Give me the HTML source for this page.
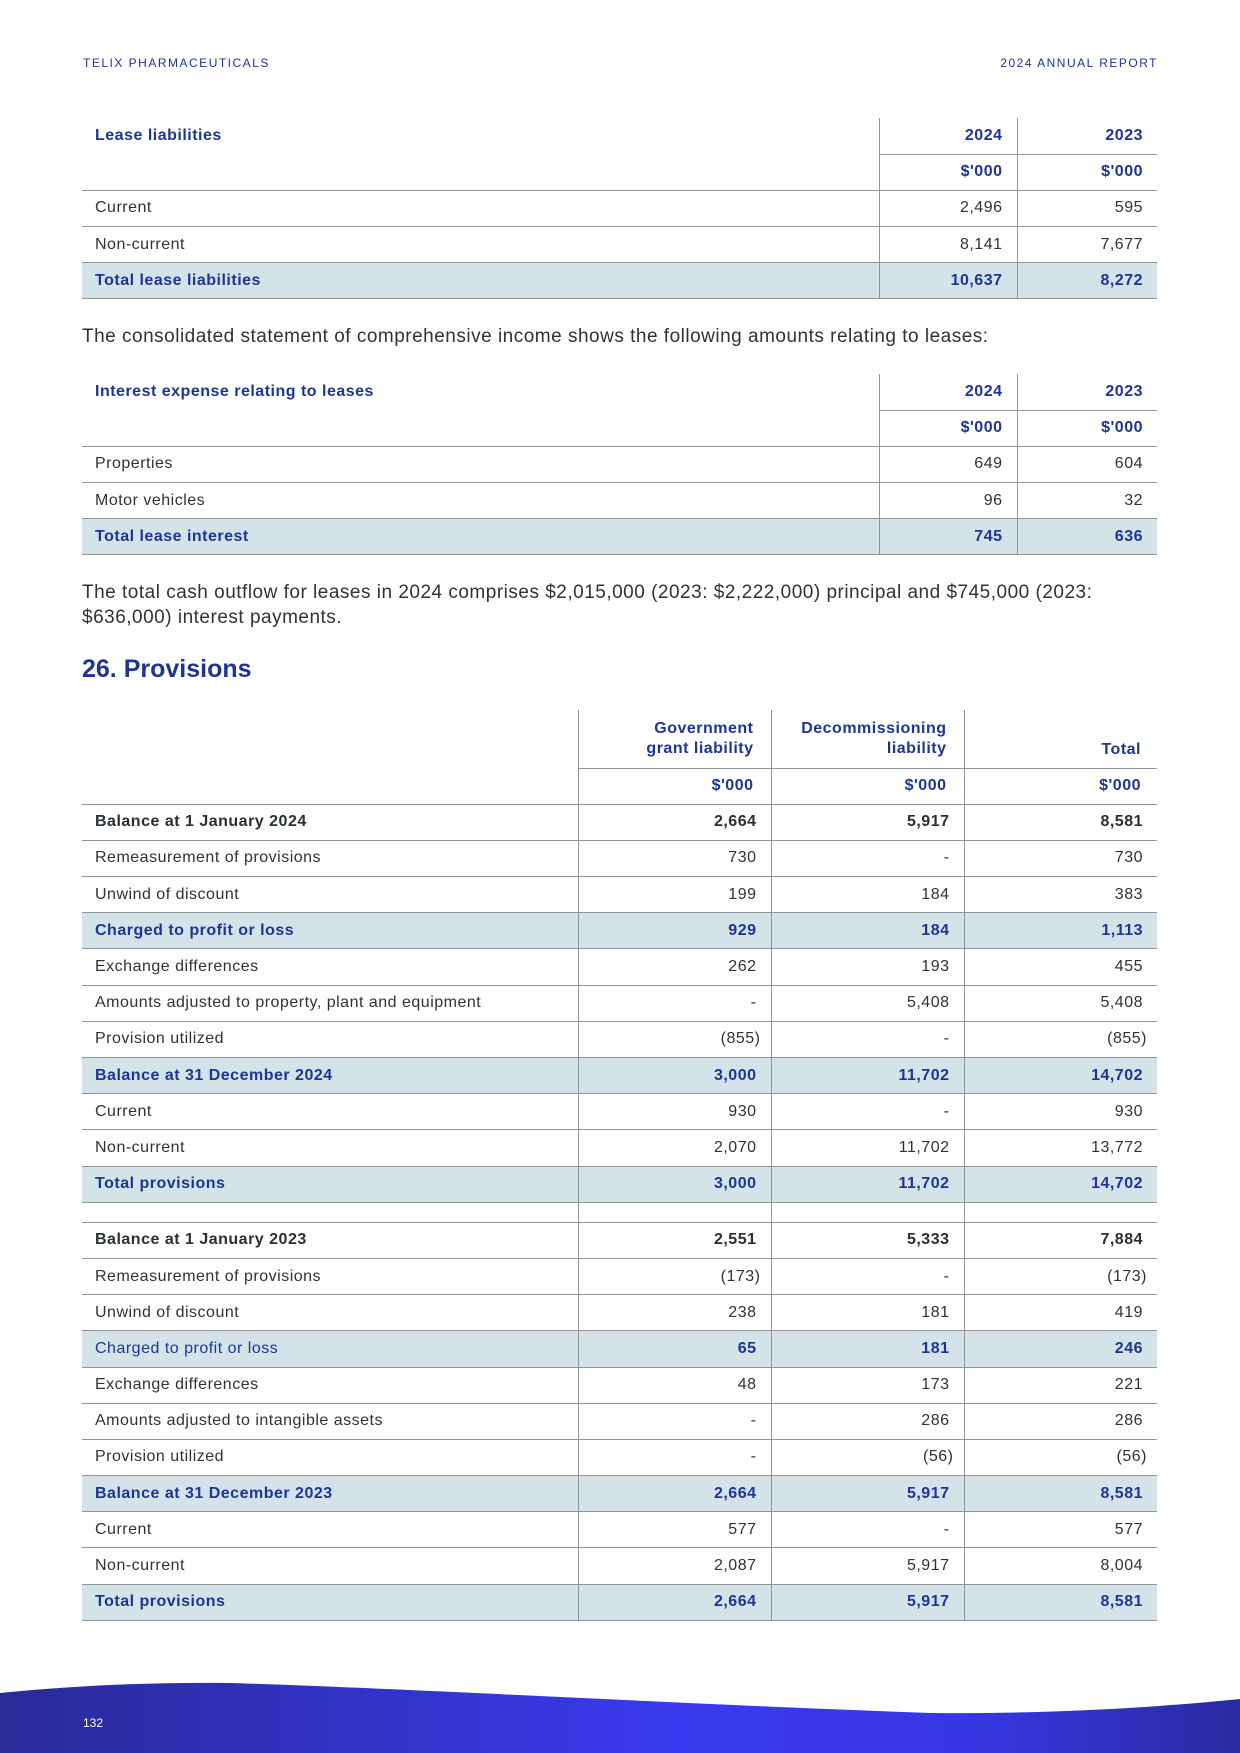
<!DOCTYPE html>
<html><head><meta charset="utf-8"><style>
*{margin:0;padding:0;box-sizing:border-box}
body{width:1240px;height:1753px;position:relative;background:#fff;font-family:"Liberation Sans",sans-serif;color:#2e3338;overflow:hidden}
.hdr{position:absolute;top:56px;font-size:12px;letter-spacing:1.5px;color:#1e3593}
table{position:absolute;left:82px;width:1075px;border-collapse:collapse;font-size:16px;letter-spacing:0.5px}
td{padding:0 14px 0 13px;white-space:nowrap;height:36.2px;border-bottom:1px solid #8f9699;vertical-align:middle}
td.n{text-align:right;border-left:1px solid #8f9699}
.b{font-weight:bold;color:#1e3593}
.k{font-weight:bold;color:#2a2f33}
tr.f td{background:#d3e3e8}
tr.f td{font-weight:bold;color:#1e3593}
tr.f td.l2{font-weight:normal}
td.nb{border-bottom:none}
tr.blank td{height:20px}
p.t{position:absolute;left:82px;font-size:19px;color:#2e3338;line-height:25px;letter-spacing:0.5px}
h2{position:absolute;left:82px;top:655px;font-size:25px;color:#1e3593}
td.p{padding-right:10px}
</style></head><body>
<div class="hdr" style="left:83px">TELIX PHARMACEUTICALS</div>
<div class="hdr" style="right:82px">2024 ANNUAL REPORT</div>

<table style="top:118px">
<colgroup><col style="width:797px"><col style="width:138px"><col style="width:140px"></colgroup>
<tr><td class="b nb">Lease liabilities</td><td class="n b">2024</td><td class="n b">2023</td></tr>
<tr><td></td><td class="n b">$'000</td><td class="n b">$'000</td></tr>
<tr><td>Current</td><td class="n">2,496</td><td class="n">595</td></tr>
<tr><td>Non-current</td><td class="n">8,141</td><td class="n">7,677</td></tr>
<tr class="f"><td>Total lease liabilities</td><td class="n">10,637</td><td class="n">8,272</td></tr>
</table>

<p class="t" style="top:324px">The consolidated statement of comprehensive income shows the following amounts relating to leases:</p>

<table style="top:374px">
<colgroup><col style="width:797px"><col style="width:138px"><col style="width:140px"></colgroup>
<tr><td class="b nb">Interest expense relating to leases</td><td class="n b">2024</td><td class="n b">2023</td></tr>
<tr><td></td><td class="n b">$'000</td><td class="n b">$'000</td></tr>
<tr><td>Properties</td><td class="n">649</td><td class="n">604</td></tr>
<tr><td>Motor vehicles</td><td class="n">96</td><td class="n">32</td></tr>
<tr class="f"><td>Total lease interest</td><td class="n">745</td><td class="n">636</td></tr>
</table>

<p class="t" style="top:580px">The total cash outflow for leases in 2024 comprises $2,015,000 (2023: $2,222,000) principal and $745,000 (2023:<br>$636,000) interest payments.</p>

<h2>26. Provisions</h2>

<table style="top:710px">
<colgroup><col style="width:496px"><col style="width:193px"><col style="width:193px"><col style="width:193px"></colgroup>
<tr><td class="nb" style="height:58px"></td><td class="n b" style="height:58px;padding-right:17px;line-height:20px;vertical-align:bottom;padding-bottom:9px">Government<br>grant liability</td><td class="n b" style="padding-right:17px;line-height:20px;vertical-align:bottom;padding-bottom:9px">Decommissioning<br>liability</td><td class="n b" style="padding-right:16px;vertical-align:bottom;padding-bottom:9px">Total</td></tr>
<tr><td></td><td class="n b" style="padding-right:17px">$'000</td><td class="n b" style="padding-right:17px">$'000</td><td class="n b" style="padding-right:16px">$'000</td></tr>
<tr><td class="k">Balance at 1 January 2024</td><td class="n k">2,664</td><td class="n k">5,917</td><td class="n k">8,581</td></tr>
<tr><td>Remeasurement of provisions</td><td class="n">730</td><td class="n">-</td><td class="n">730</td></tr>
<tr><td>Unwind of discount</td><td class="n">199</td><td class="n">184</td><td class="n">383</td></tr>
<tr class="f"><td>Charged to profit or loss</td><td class="n">929</td><td class="n">184</td><td class="n">1,113</td></tr>
<tr><td>Exchange differences</td><td class="n">262</td><td class="n">193</td><td class="n">455</td></tr>
<tr><td>Amounts adjusted to property, plant and equipment</td><td class="n">-</td><td class="n">5,408</td><td class="n">5,408</td></tr>
<tr><td>Provision utilized</td><td class="n p">(855)</td><td class="n">-</td><td class="n p">(855)</td></tr>
<tr class="f"><td>Balance at 31 December 2024</td><td class="n">3,000</td><td class="n">11,702</td><td class="n">14,702</td></tr>
<tr><td>Current</td><td class="n">930</td><td class="n">-</td><td class="n">930</td></tr>
<tr><td>Non-current</td><td class="n">2,070</td><td class="n">11,702</td><td class="n">13,772</td></tr>
<tr class="f"><td>Total provisions</td><td class="n">3,000</td><td class="n">11,702</td><td class="n">14,702</td></tr>
<tr class="blank"><td></td><td class="n"></td><td class="n"></td><td class="n"></td></tr>
<tr><td class="k">Balance at 1 January 2023</td><td class="n k">2,551</td><td class="n k">5,333</td><td class="n k">7,884</td></tr>
<tr><td>Remeasurement of provisions</td><td class="n p">(173)</td><td class="n">-</td><td class="n p">(173)</td></tr>
<tr><td>Unwind of discount</td><td class="n">238</td><td class="n">181</td><td class="n">419</td></tr>
<tr class="f"><td class="l2">Charged to profit or loss</td><td class="n">65</td><td class="n">181</td><td class="n">246</td></tr>
<tr><td>Exchange differences</td><td class="n">48</td><td class="n">173</td><td class="n">221</td></tr>
<tr><td>Amounts adjusted to intangible assets</td><td class="n">-</td><td class="n">286</td><td class="n">286</td></tr>
<tr><td>Provision utilized</td><td class="n">-</td><td class="n p">(56)</td><td class="n p">(56)</td></tr>
<tr class="f"><td>Balance at 31 December 2023</td><td class="n">2,664</td><td class="n">5,917</td><td class="n">8,581</td></tr>
<tr><td>Current</td><td class="n">577</td><td class="n">-</td><td class="n">577</td></tr>
<tr><td>Non-current</td><td class="n">2,087</td><td class="n">5,917</td><td class="n">8,004</td></tr>
<tr class="f"><td>Total provisions</td><td class="n">2,664</td><td class="n">5,917</td><td class="n">8,581</td></tr>
</table>

<svg style="position:absolute;left:0;top:1660px" width="1240" height="93">
<defs><linearGradient id="g" x1="0" x2="1" y1="0" y2="0">
<stop offset="0" stop-color="#2a2a99"/><stop offset="0.55" stop-color="#3a3af0"/><stop offset="0.8" stop-color="#3636e0"/><stop offset="1" stop-color="#2a2aa0"/></linearGradient></defs>
<path d="M0 33 C80 25 160 22 230 23 C400 28 700 45 930 53 C1050 54 1150 48 1240 39 L1240 93 L0 93 Z" fill="url(#g)"/>
<text x="83" y="67" font-family="Liberation Sans,sans-serif" font-size="12" fill="#fff">132</text>
</svg>
</body></html>
